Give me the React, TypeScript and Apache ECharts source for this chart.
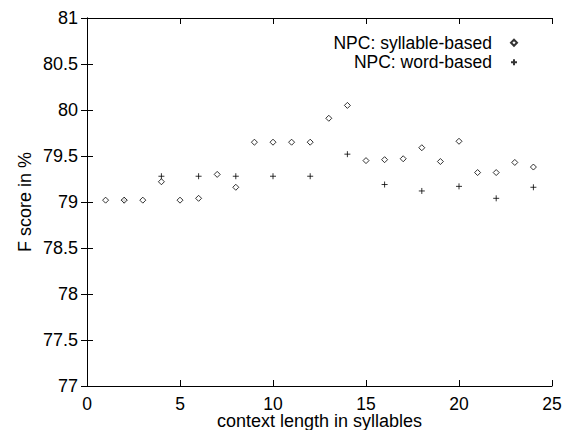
import React, { useEffect, useRef } from "react";
import * as echarts from "echarts";

const contextLengths = [1, 2, 3, 4, 5, 6, 7, 8, 9, 10, 11, 12, 13, 14, 15, 16, 17, 18, 19, 20, 21, 22, 23, 24];
const syllableScores = [79.02, 79.02, 79.02, 79.22, 79.02, 79.04, 79.3, 79.16, 79.65, 79.65, 79.65, 79.65, 79.91, 80.05, 79.45, 79.46, 79.47, 79.59, 79.44, 79.66, 79.32, 79.32, 79.43, 79.38];
const wordContextLengths = [2, 4, 6, 8, 10, 12, 14, 16, 18, 20, 22, 24];
const wordScores = [79.02, 79.28, 79.28, 79.28, 79.28, 79.28, 79.52, 79.19, 79.12, 79.17, 79.04, 79.16];

const seriesNames = ["NPC: syllable-based", "NPC: word-based"];
const xTitle = "context length in syllables";
const yTitle = "F score in %";

const FONT = "'Liberation Sans', Arial, Helvetica, sans-serif";
const PLUS = "path://M3,0L3,6M0,3L6,3";

export default function App() {
  const ref = useRef<HTMLDivElement>(null);
  useEffect(() => {
    if (!ref.current) return;
    const chart = echarts.init(ref.current, null, { renderer: "svg" });
    const line = { show: true, lineStyle: { color: "#000", width: 1 } };
    const tick = { show: true, inside: true, length: 6, lineStyle: { color: "#000", width: 1 } };
    const syllableData = contextLengths.map((x, i) => [x, syllableScores[i]]);
    const wordData = wordContextLengths.map((x, i) => [x, wordScores[i]]);
    chart.setOption({
      animation: false,
      backgroundColor: "#fff",
      textStyle: { fontFamily: FONT },
      grid: { left: 87, right: 13, top: 18, bottom: 44, containLabel: false, outerBoundsMode: "none" },
      legend: {
        orient: "vertical",
        align: "right",
        right: 47,
        top: 33,
        padding: 0,
        itemGap: 0,
        itemWidth: 6,
        itemHeight: 6,
        data: seriesNames,
        textStyle: { fontFamily: FONT, fontSize: 17.5, color: "#000", lineHeight: 19.5, padding: [0, 14, 0, 0] },
      },
      xAxis: [
        {
          type: "value",
          position: "bottom",
          min: 0,
          max: 25,
          interval: 5,
          axisLine: line,
          axisTick: tick,
          splitLine: { show: false },
          axisLabel: { color: "#000", fontSize: 17.5, fontFamily: FONT, margin: 9, lineHeight: 17 },
          name: xTitle,
          nameLocation: "middle",
          nameGap: 26,
          nameMoveOverlap: false,
          nameTextStyle: { color: "#000", fontSize: 18, fontFamily: FONT, lineHeight: 18 },
        },
        {
          type: "value",
          position: "top",
          min: 0,
          max: 25,
          interval: 5,
          axisLine: line,
          axisTick: tick,
          splitLine: { show: false },
          axisLabel: { show: false },
        },
      ],
      yAxis: [
        {
          type: "value",
          position: "left",
          min: 77,
          max: 81,
          interval: 0.5,
          axisLine: line,
          axisTick: tick,
          splitLine: { show: false },
          axisLabel: { color: "#000", fontSize: 18, fontFamily: FONT, margin: 9 },
          name: yTitle,
          nameLocation: "middle",
          nameGap: 53,
          nameMoveOverlap: false,
          nameTextStyle: { color: "#000", fontSize: 18, fontFamily: FONT },
        },
        {
          type: "value",
          position: "right",
          min: 77,
          max: 81,
          interval: 0.5,
          axisLine: line,
          axisTick: tick,
          splitLine: { show: false },
          axisLabel: { show: false },
        },
      ],
      series: [
        {
          name: seriesNames[0],
          type: "scatter",
          xAxisIndex: 0,
          yAxisIndex: 0,
          symbol: "diamond",
          symbolSize: 6,
          itemStyle: { color: "#fff", borderColor: "#000", borderWidth: 1 },
          data: syllableData,
          z: 3,
        },
        {
          name: seriesNames[1],
          type: "scatter",
          xAxisIndex: 0,
          yAxisIndex: 0,
          symbol: PLUS,
          symbolSize: 6,
          itemStyle: { color: "rgba(0,0,0,0)", borderColor: "#000", borderWidth: 1 },
          data: wordData,
          z: 2,
        },
      ],
    });
    return () => chart.dispose();
  }, []);
  return (
    <div
      ref={ref}
      style={{ position: "fixed", left: 0, top: 0, width: 565, height: 430, background: "#fff" }}
    />
  );
}
